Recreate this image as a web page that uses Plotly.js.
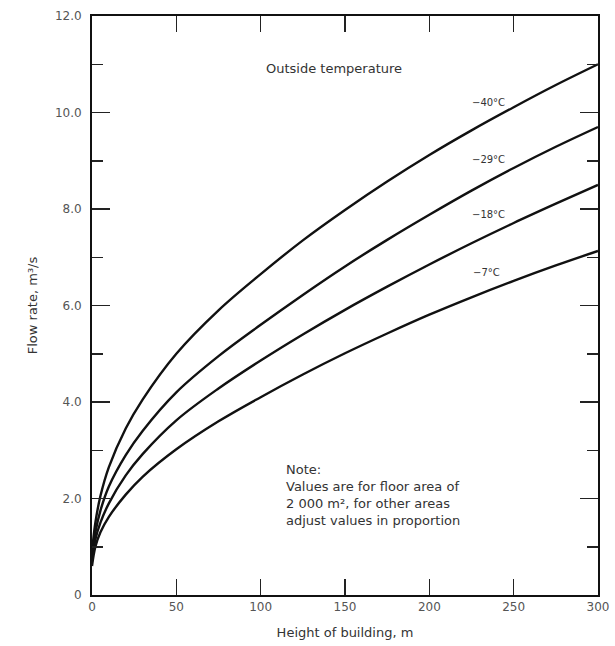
<!DOCTYPE html>
<html>
<head>
<meta charset="utf-8">
<script src="https://cdn.plot.ly/plotly-3.0.1.min.js"></script>
<style>html,body{margin:0;padding:0;background:#fff;}#chart{width:615px;height:646px;}</style>
</head>
<body>
<div id="chart"></div>
<script>
// Height of building, m
const heights = [0, 2, 5, 10, 20, 30, 50, 75, 100, 125, 150, 175, 200, 225, 250, 275, 300];
// Flow rate, m3/s, for each outside temperature
const flowMinus40 = [0.9, 1.5, 2.05, 2.65, 3.45, 4.05, 5.0, 5.9, 6.65, 7.35, 7.98, 8.57, 9.12, 9.63, 10.11, 10.57, 11.0];
const flowMinus29 = [0.8, 1.3, 1.75, 2.25, 2.9, 3.4, 4.2, 4.95, 5.6, 6.22, 6.81, 7.36, 7.88, 8.38, 8.85, 9.29, 9.7];
const flowMinus18 = [0.7, 1.15, 1.5, 1.9, 2.48, 2.92, 3.62, 4.28, 4.86, 5.4, 5.91, 6.39, 6.85, 7.29, 7.71, 8.11, 8.5];
const flowMinus7  = [0.6, 1.0, 1.3, 1.62, 2.08, 2.45, 3.02, 3.6, 4.1, 4.57, 5.01, 5.42, 5.81, 6.17, 6.51, 6.83, 7.13];
const seriesNames = ["\u221240\u00b0C", "\u221229\u00b0C", "\u221218\u00b0C", "\u22127\u00b0C"];
// curve label anchor positions (data units)
const labelX = [235, 235, 235, 234];
const labelY = [10.2, 9.02, 7.88, 6.69];

const xTickVals = [0, 50, 100, 150, 200, 250, 300];
const xTickText = ["0", "50", "100", "150", "200", "250", "300"];
const yTickVals = [0, 2, 4, 6, 8, 10, 12];
const yTickText = ["0", "2.0", "4.0", "6.0", "8.0", "10.0", "12.0"];

const FONT = "DejaVu Sans, Liberation Sans, Arial, sans-serif";
const allSeries = [flowMinus40, flowMinus29, flowMinus18, flowMinus7];

const traces = allSeries.map((ys, i) => ({
  x: heights, y: ys, type: "scatter", mode: "lines", name: seriesNames[i],
  line: {color: "#111111", width: 2.4, shape: "spline", smoothing: 1},
  hoverinfo: "skip"
}));

const annotations = seriesNames.map((t, i) => ({
  x: labelX[i], y: labelY[i], xref: "x", yref: "y", text: t, showarrow: false,
  font: {family: FONT, size: 10, color: "#333"}, xanchor: "center", yanchor: "middle"
}));
annotations.push({
  x: 102, y: 10.92, xref: "x", yref: "y", text: "Outside temperature", showarrow: false,
  font: {family: FONT, size: 13, color: "#333"}, xanchor: "left", yanchor: "middle"
});
annotations.push({
  x: 114, y: 2.8, xref: "x", yref: "y", align: "left",
  text: "Note:<br>Values are for floor area of<br>2 000 m\u00b2, for other areas<br>adjust values in proportion",
  showarrow: false, font: {family: FONT, size: 13, color: "#333"}, xanchor: "left", yanchor: "top"
});

const layout = {
  width: 615, height: 646,
  margin: {l: 92, r: 17, t: 16, b: 51},
  paper_bgcolor: "#ffffff", plot_bgcolor: "#ffffff",
  showlegend: false,
  font: {family: FONT, size: 12, color: "#333"},
  xaxis: {
    range: [0, 300], tickvals: xTickVals, ticktext: xTickText,
    ticks: "inside", ticklen: 16, tickwidth: 1.5, tickcolor: "#222",
    showline: true, linecolor: "#111", linewidth: 2, mirror: "ticks",
    showgrid: false, zeroline: false,
    tickfont: {family: FONT, size: 12, color: "#555"},
    title: {text: "Height of building, m", font: {family: FONT, size: 13, color: "#333"}, standoff: 14}
  },
  yaxis: {
    range: [0, 12], tickvals: yTickVals, ticktext: yTickText,
    ticks: "inside", ticklen: 18, tickwidth: 1.5, tickcolor: "#222",
    minor: {dtick: 1, tick0: 1, ticks: "inside", ticklen: 11, tickwidth: 1.5, tickcolor: "#222", showgrid: false},
    showline: true, linecolor: "#111", linewidth: 2, mirror: "ticks",
    showgrid: false, zeroline: false,
    ticklabelstandoff: 6,
    tickfont: {family: FONT, size: 12, color: "#555"},
    title: {text: "Flow rate, m\u00b3/s", font: {family: FONT, size: 13, color: "#333"}, standoff: 14}
  },
  annotations: annotations
};

Plotly.newPlot("chart", traces, layout, {displayModeBar: false, staticPlot: true});
</script>
</body>
</html>
